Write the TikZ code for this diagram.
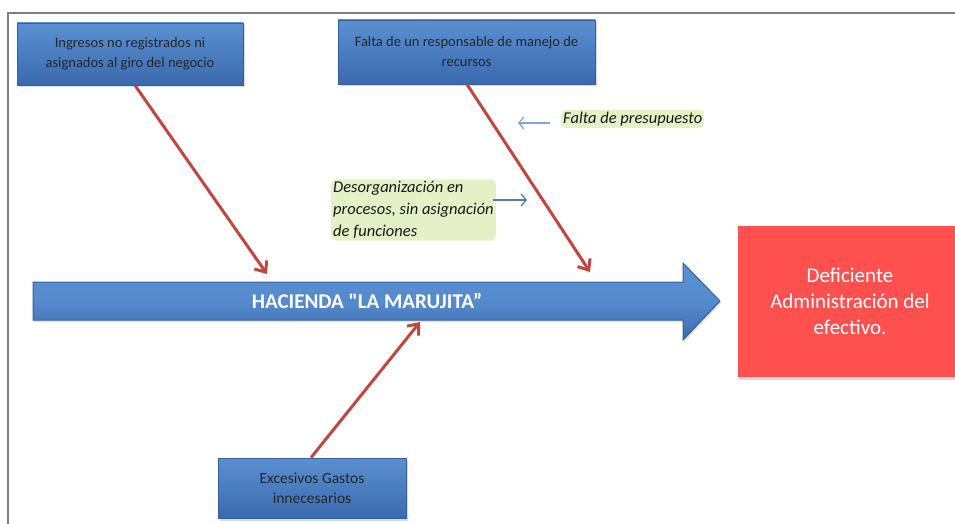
\documentclass[tikz,border=0pt]{standalone}
\usepackage{fontspec}
\setmainfont{Carlito}
\usetikzlibrary{arrows.meta,shadows}
\definecolor{bluetop}{HTML}{5A90D2}
\definecolor{bluebot}{HTML}{3A6AAE}
\definecolor{bluedark}{HTML}{35609A}
\definecolor{arrred}{HTML}{C0463F}
\definecolor{redbox}{HTML}{FF5050}
\definecolor{glow}{HTML}{E4F0C6}
\definecolor{lightarr}{HTML}{7FA6D8}
\definecolor{midarr}{HTML}{4A7CC0}
\definecolor{framegray}{HTML}{7F7F7F}
\tikzset{
  cause/.style={draw=bluedark, line width=0.8pt, top color=bluetop, bottom color=bluebot,
    align=center, font=\fontsize{14.5}{20}\selectfont, text=black!85, inner sep=2pt,
    drop shadow={shadow xshift=1.5pt, shadow yshift=-2.5pt, opacity=0.3}},
  effect/.style={fill=redbox, draw=none, align=center, text=white,
    font=\fontsize{21}{26}\selectfont,
    drop shadow={shadow xshift=1pt, shadow yshift=-3pt, opacity=0.3}},
  redarrow/.style={draw=arrred, line width=3pt, -{Straight Barb[length=9pt,width=15pt]}},
  bluearrow/.style={line width=1.3pt, -{Straight Barb[length=5pt,width=12pt]}},
  note/.style={font=\itshape\fontsize{16.5}{22}\selectfont, align=left, inner sep=2pt,
    text=black!90, fill=glow, rounded corners=5pt},
  spinestyle/.style={draw=bluedark, line width=1pt, top color=bluetop, bottom color=bluebot, middle color=bluetop!85!bluebot}
}
\begin{document}
\begin{tikzpicture}[x=1pt,y=-1pt]
\useasboundingbox (0,0) rectangle (955,524);
\clip (0,0) rectangle (955,524);
% frame
\draw[framegray, line width=1.2pt] (8,526) -- (8,13) -- (957,13);
% spine arrow
\draw[spinestyle, drop shadow={shadow xshift=1pt, shadow yshift=-2pt, opacity=0.25}]
  (33,282) -- (683,282) -- (683,263) -- (720,301) -- (683,340) -- (683,320) -- (33,320) -- cycle;
\node[font=\bfseries\fontsize{21}{24}\selectfont, text=white] (spine) at (367,301) {HACIENDA \textquotedbl LA MARUJITA”};
% effect
\node[effect, minimum width=224pt, minimum height=151pt] (effect) at (850,301.5)
  {Deficiente\\Administración del\\efectivo.};
% causes
\node[cause, minimum width=226pt, minimum height=62pt] (c1) at (130,54)
  {Ingresos no registrados ni\\asignados al giro del negocio};
\node[cause, minimum width=257pt, minimum height=64pt] (c2) at (466.5,52)
  {Falta de un responsable de manejo de\\recursos};
\node[cause, minimum width=188pt, minimum height=60pt, font=\fontsize{15.5}{20}\selectfont] (c3) at (312,488)
  {Excesivos Gastos\\innecesarios};
% tips
\coordinate (t1) at (267,274);
\coordinate (t2) at (590,272);
\coordinate (t3) at (420,322);
\draw[redarrow] (c1.south -| 135,0) -- (t1);
\draw[redarrow] (c2.south -| 467,0) -- (t2);
\draw[redarrow] (c3.north -| 311,0) -- (t3);
% notes
\node[note, anchor=west] (n1) at (561,119) {Falta de presupuesto};
\node[note, anchor=west] (n2) at (331,210)
  {Desorganización en\\procesos, sin asignación\\de funciones};
\coordinate (a1) at (518,123);
\coordinate (a2) at (527,200);
\draw[bluearrow, draw=lightarr] (n1.west |- 0,123) ++(-11,0) -- (a1);
\draw[bluearrow, draw=midarr] (493,200) -- (a2);
\end{tikzpicture}
\end{document}
